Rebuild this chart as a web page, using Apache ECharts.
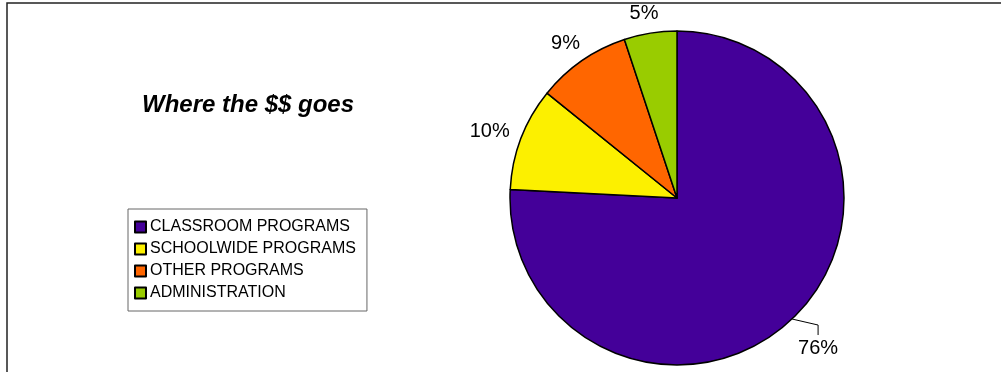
<!DOCTYPE html>
<html>
<head>
<meta charset="utf-8">
<script src="https://cdn.jsdelivr.net/npm/echarts@6/dist/echarts.min.js"></script>
<style>
  html, body { margin: 0; padding: 0; background: #fff; }
  #chart { width: 1001px; height: 372px; }
</style>
</head>
<body>
<div id="chart"></div>
<script>
// 数据
var categories = ['CLASSROOM PROGRAMS', 'SCHOOLWIDE PROGRAMS', 'OTHER PROGRAMS', 'ADMINISTRATION'];
var shares = [75.8, 10.0, 9.1, 5.1];
var colors = ['#440099', '#FCF000', '#FF6600', '#99CC00'];

var chart = echarts.init(document.getElementById('chart'));

var pieData = categories.map(function (name, i) {
    return {
        name: name,
        value: shares[i],
        itemStyle: { color: colors[i] },
        labelLine: { show: i === 0 }
    };
});

// 标签微调 (像素偏移)
var labelNudge = [[0, 0], [5, -3], [10, -7], [15, -8]];

var option = {
    animation: false,
    textStyle: { fontFamily: 'Liberation Sans, Arial, sans-serif' },
    title: {
        text: 'Where the $$ goes',
        left: 142,
        top: 93,
        padding: 0,
        textStyle: {
            fontSize: 24,
            fontWeight: 'bold',
            fontStyle: 'italic',
            color: '#000'
        }
    },
    // 外框 (只有上边和左边在画面内)
    graphic: [{
        type: 'rect',
        shape: { x: 7, y: 3, width: 1100, height: 500 },
        style: { fill: null, stroke: '#222', lineWidth: 1.5 },
        silent: true
    }],
    legend: {
        orient: 'vertical',
        left: 128,
        top: 209,
        data: categories,
        icon: 'rect',
        itemWidth: 11,
        itemHeight: 11,
        itemGap: 6,
        padding: [10, 11, 10, 6],
        borderColor: '#666',
        borderWidth: 1,
        selectedMode: false,
        textStyle: { fontSize: 16, color: '#000', padding: [0, 0, 0, -1] }
    },
    series: [{
        name: 'Where the $$ goes',
        type: 'pie',
        center: [677, 198],
        radius: [0, 167],
        startAngle: 90,
        clockwise: true,
        avoidLabelOverlap: false,
        itemStyle: { borderColor: '#000', borderWidth: 1.5 },
        label: {
            show: true,
            position: 'outside',
            fontSize: 20,
            color: '#000',
            formatter: function (p) { return Math.round(p.value) + '%'; }
        },
        labelLine: {
            show: true,
            length: 12,
            length2: 0,
            lineStyle: { color: '#000', width: 1 }
        },
        labelLayout: function (params) {
            if (params.dataIndex === 0 && params.labelLinePoints) {
                // Excel 风格的引线: 先斜出, 再竖直向下到标签
                var p0 = params.labelLinePoints[0];
                var p1 = [p0[0] + 26, p0[1] + 6];
                var p2 = [p1[0], p1[1] + 10];
                return {
                    x: p2[0],
                    y: p2[1] + 3,
                    align: 'center',
                    verticalAlign: 'top',
                    labelLinePoints: [p0, p1, p2]
                };
            }
            var n = labelNudge[params.dataIndex];
            return { dx: n[0], dy: n[1] };
        },
        emphasis: { disabled: true },
        data: pieData
    }]
};

chart.setOption(option);
</script>
</body>
</html>
